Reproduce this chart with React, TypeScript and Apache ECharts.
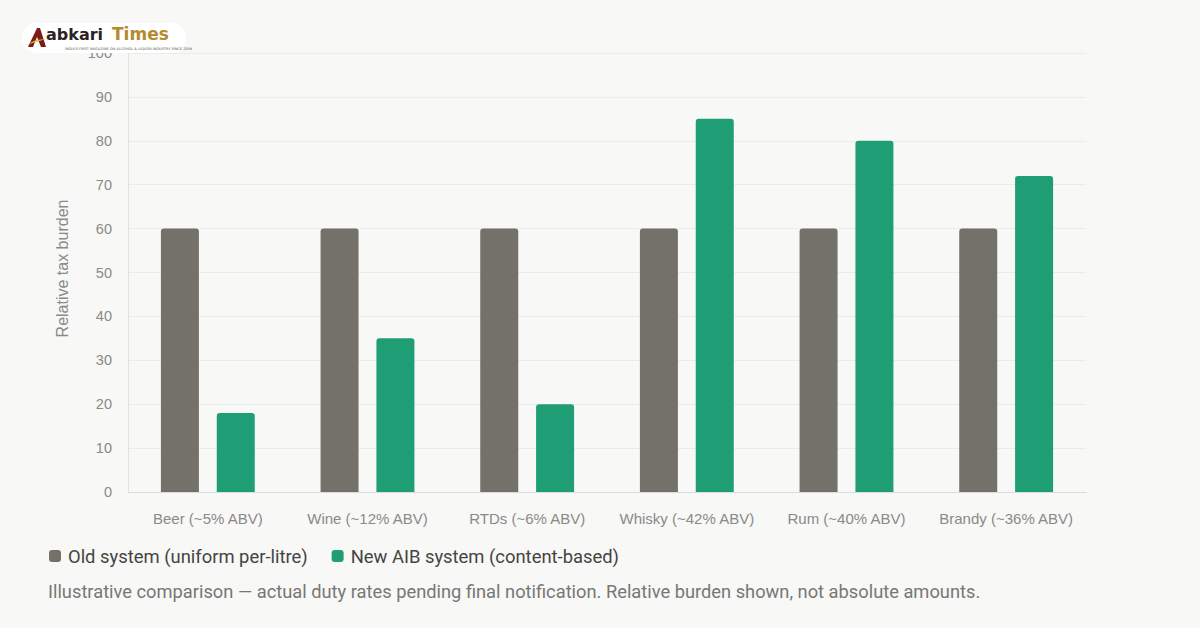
import React, { useEffect, useRef } from "react";
import * as echarts from "echarts";

const categories = [
  "Beer (~5% ABV)",
  "Wine (~12% ABV)",
  "RTDs (~6% ABV)",
  "Whisky (~42% ABV)",
  "Rum (~40% ABV)",
  "Brandy (~36% ABV)",
];
const oldSystem = [60, 60, 60, 60, 60, 60];
const newSystem = [18, 35, 20, 85, 80, 72];
const seriesNames = ["Old system (uniform per-litre)", "New AIB system (content-based)"];
const yAxisName = "Relative tax burden";
const footnote =
  "Illustrative comparison — actual duty rates pending final notification. Relative burden shown, not absolute amounts.";

const GRAY = "#74716b";
const GREEN = "#1f9e76";

export default function App() {
  const ref = useRef<HTMLDivElement>(null);
  useEffect(() => {
    if (!ref.current) return;
    const chart = echarts.init(ref.current, undefined, { renderer: "svg" });
    chart.setOption({
      animation: false,
      backgroundColor: "#f8f8f6",
      grid: { left: 128, right: 114, top: 53, bottom: 136, containLabel: false },
      xAxis: {
        type: "category",
        data: categories,
        axisLine: { lineStyle: { color: "#dcdcd8" } },
        axisTick: { show: false },
        axisLabel: {
          interval: 0,
          color: "#8a8a88",
          fontFamily: "Liberation Sans, Arial, sans-serif",
          fontSize: 15,
          margin: 19,
        },
      },
      yAxis: {
        type: "value",
        min: 0,
        max: 100,
        interval: 10,
        name: yAxisName,
        nameLocation: "middle",
        nameGap: 58,
        nameTextStyle: {
          color: "#8a8a88",
          fontFamily: "Liberation Sans, Arial, sans-serif",
          fontSize: 16,
          padding: [0, 0, 0, 8],
        },
        axisLine: { show: true, lineStyle: { color: "#e2e2de" } },
        axisTick: { show: false },
        splitLine: { lineStyle: { color: "#ebebe7" } },
        axisLabel: {
          color: "#8a8a88",
          fontFamily: "Liberation Sans, Arial, sans-serif",
          fontSize: 14.5,
          margin: 16,
        },
      },
      legend: {
        left: 44,
        top: 542,
        itemWidth: 12,
        itemHeight: 12,
        itemGap: 24,
        icon: "roundRect",
        textStyle: {
          color: "#444444",
          fontFamily: "Roboto, sans-serif",
          fontSize: 18.4,
          padding: [0, 0, 0, 2],
        },
        data: seriesNames,
      },
      series: [
        {
          name: seriesNames[0],
          type: "bar",
          data: oldSystem,
          barWidth: 38,
          barGap: "47%",
          itemStyle: { color: GRAY, borderRadius: [3, 3, 0, 0] },
        },
        {
          name: seriesNames[1],
          type: "bar",
          data: newSystem,
          barWidth: 38,
          itemStyle: { color: GREEN, borderRadius: [3, 3, 0, 0] },
        },
      ],
      graphic: [
        {
          type: "text",
          left: 48,
          top: 582,
          style: {
            text: footnote,
            fill: "#777775",
            fontFamily: "Roboto, sans-serif",
            fontSize: 18.3,
          },
        },
        {
          type: "group",
          left: 22,
          top: 23,
          z: 100,
          children: [
            {
              type: "rect",
              z: 100,
              shape: { x: 0, y: 0, width: 164, height: 30, r: 15 },
              style: { fill: "#ffffff" },
            },
            {
              type: "polygon",
              z: 101,
              shape: { points: [[6, 24], [15, 5], [18, 5], [24, 24], [19, 24], [15, 14], [11, 24]] },
              style: { fill: "#7a1c1c" },
            },
            {
              type: "polygon",
              z: 102,
              shape: { points: [[4, 22], [14, 17], [24, 16], [14, 19]] },
              style: { fill: "#e5b92a" },
            },
            {
              type: "text",
              z: 101,
              x: 24,
              y: 3,
              style: {
                text: "abkari",
                fill: "#2b2320",
                fontFamily: "DejaVu Sans, sans-serif",
                fontWeight: "bold",
                fontSize: 16,
                lineHeight: 17,
              },
            },
            {
              type: "text",
              z: 101,
              x: 90,
              y: 2,
              style: {
                text: "Times",
                fill: "#b58a2b",
                fontFamily: "DejaVu Sans, sans-serif",
                fontWeight: "bold",
                fontSize: 17,
                lineHeight: 18,
              },
            },
            {
              type: "text",
              z: 101,
              x: 43,
              y: 24,
              style: {
                text: "INDIA'S FIRST MAGAZINE ON ALCOHOL & LIQUOR INDUSTRY SINCE 2009",
                fill: "#555555",
                fontFamily: "DejaVu Sans, sans-serif",
                fontSize: 3.5,
                lineHeight: 4,
              },
            },
          ],
        },
      ],
    });
    return () => chart.dispose();
  }, []);
  return (
    <div
      ref={ref}
      style={{ position: "fixed", left: 0, top: 0, width: 1200, height: 628 }}
    />
  );
}
